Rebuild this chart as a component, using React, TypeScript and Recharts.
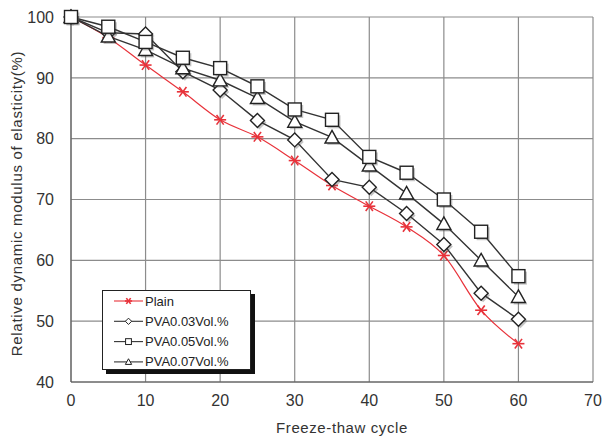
import { LineChart, Line, XAxis, YAxis, CartesianGrid } from 'recharts';

const cycles = [0, 5, 10, 15, 20, 25, 30, 35, 40, 45, 50, 55, 60];
const plain = [100, 96.6, 92.1, 87.7, 83.1, 80.3, 76.4, 72.3, 68.9, 65.5, 60.8, 51.8, 46.3];
const pva003 = [100, 97.4, 97.2, 91.0, 88.0, 83.0, 79.8, 73.3, 72.0, 67.7, 62.6, 54.6, 50.3];
const pva005 = [100, 98.4, 95.9, 93.3, 91.6, 88.6, 84.8, 83.1, 77.0, 74.4, 70.0, 64.7, 57.4];
const pva007 = [100, 96.8, 94.6, 91.6, 89.6, 86.7, 82.8, 80.2, 75.6, 71.0, 66.0, 60.0, 54.0];
const xTicks = [0, 10, 20, 30, 40, 50, 60, 70];
const yTicks = [40, 50, 60, 70, 80, 90, 100];

const chartData = cycles.map((c, i) => ({
  cycle: c,
  plain: plain[i],
  pva003: pva003[i],
  pva005: pva005[i],
  pva007: pva007[i],
}));

const FONT = '"Liberation Sans", Arial, sans-serif';
const LINE = '#333';
const RED = '#e8323a';

type Kind = 'star' | 'diamond' | 'square' | 'triangle';

function Marker({ kind, cx, cy, s = 1 }: { kind: Kind; cx: number; cy: number; s?: number }) {
  if (kind === 'star') {
    const r = 6 * s;
    return (
      <g stroke={RED} strokeWidth={1.6}>
        <line x1={cx - r} y1={cy} x2={cx + r} y2={cy} />
        <line x1={cx - r * 0.6} y1={cy - r * 0.8} x2={cx + r * 0.6} y2={cy + r * 0.8} />
        <line x1={cx + r * 0.6} y1={cy - r * 0.8} x2={cx - r * 0.6} y2={cy + r * 0.8} />
      </g>
    );
  }
  const sw = s === 1 ? 1.4 : 1;
  const shape = (dx: number, dy: number, fill: string, stroke: string) => {
    const x = cx + dx;
    const y = cy + dy;
    if (kind === 'square') {
      const h = 6.5 * s;
      return <rect x={x - h} y={y - h} width={h * 2} height={h * 2} fill={fill} stroke={stroke} strokeWidth={sw} />;
    }
    if (kind === 'diamond') {
      const h = 7 * s;
      return <polygon points={`${x},${y - h} ${x + h},${y} ${x},${y + h} ${x - h},${y}`} fill={fill} stroke={stroke} strokeWidth={sw} />;
    }
    const h = 7 * s;
    return <polygon points={`${x},${y - h} ${x + h},${y + h * 0.8} ${x - h},${y + h * 0.8}`} fill={fill} stroke={stroke} strokeWidth={sw} />;
  };
  return (
    <g>
      {s === 1 && <g opacity={0.35}>{shape(2, 2, '#555', 'none')}</g>}
      {shape(0, 0, '#fff', '#222')}
    </g>
  );
}

const makeDot = (kind: Kind) => (props: any) => (
  <Marker key={`${kind}-${props.index}`} kind={kind} cx={props.cx} cy={props.cy} />
);

const legendItems: { name: string; kind: Kind; color: string }[] = [
  { name: 'Plain', kind: 'star', color: RED },
  { name: 'PVA0.03Vol.%', kind: 'diamond', color: LINE },
  { name: 'PVA0.05Vol.%', kind: 'square', color: LINE },
  { name: 'PVA0.07Vol.%', kind: 'triangle', color: LINE },
];

function LegendBox() {
  return (
    <div
      style={{
        position: 'absolute',
        left: 102,
        top: 290,
        width: 149,
        height: 80,
        boxSizing: 'border-box',
        border: '1px solid #222',
        background: '#fff',
        boxShadow: '4px 4px 0 #111',
      }}
    >
      <svg width={147} height={78} style={{ display: 'block' }}>
        {legendItems.map((it, i) => {
          const y = 10 + i * 20.3;
          return (
            <g key={it.name}>
              <line x1={11} x2={40} y1={y} y2={y} stroke={it.color} strokeWidth={1.1} />
              <Marker kind={it.kind} cx={25.5} cy={y} s={it.kind === 'star' ? 0.6 : 0.45} />
              <text x={42} y={y + 4.5} fontSize={13} fontFamily={FONT} fill="#222">
                {it.name}
              </text>
            </g>
          );
        })}
      </svg>
    </div>
  );
}

export default function App() {
  return (
    <div style={{ position: 'absolute', left: 0, top: 0, width: 602, height: 439, background: '#fff' }}>
      <LineChart width={602} height={439} data={chartData} margin={{ top: 17, right: 9, left: 0, bottom: 0 }}>
        <CartesianGrid stroke="#8c8c8c" strokeWidth={1.2} />
        <XAxis
          dataKey="cycle"
          type="number"
          domain={[0, 70]}
          ticks={xTicks}
          height={57}
          tickSize={0}
          tickMargin={13}
          stroke="#555"
          tick={{ fill: '#333', fontSize: 16, fontFamily: FONT }}
          label={{
            value: 'Freeze-thaw cycle',
            position: 'insideBottom',
            offset: 6,
            dx: 10,
            style: { fill: '#333', fontSize: 15, fontFamily: FONT, letterSpacing: 0.6 },
          }}
        />
        <YAxis
          type="number"
          domain={[40, 100]}
          ticks={yTicks}
          width={71}
          tickSize={0}
          tickMargin={17}
          stroke="#555"
          tick={{ fill: '#333', fontSize: 16, fontFamily: FONT }}
          label={{
            value: 'Relative dynamic modulus of elasticity(%)',
            angle: -90,
            position: 'insideLeft',
            offset: 17,
            dy: 4,
            style: { textAnchor: 'middle', fill: '#333', fontSize: 15, fontFamily: FONT, letterSpacing: 0.7 },
          }}
        />
        <Line type="monotone" dataKey="plain" name="Plain" stroke={RED} strokeWidth={1.2} dot={makeDot('star')} isAnimationActive={false} />
        <Line type="linear" dataKey="pva003" name="PVA0.03Vol.%" stroke={LINE} strokeWidth={1.4} dot={makeDot('diamond')} isAnimationActive={false} />
        <Line type="linear" dataKey="pva007" name="PVA0.07Vol.%" stroke={LINE} strokeWidth={1.4} dot={makeDot('triangle')} isAnimationActive={false} />
        <Line type="linear" dataKey="pva005" name="PVA0.05Vol.%" stroke={LINE} strokeWidth={1.4} dot={makeDot('square')} isAnimationActive={false} />
      </LineChart>
      <LegendBox />
    </div>
  );
}
